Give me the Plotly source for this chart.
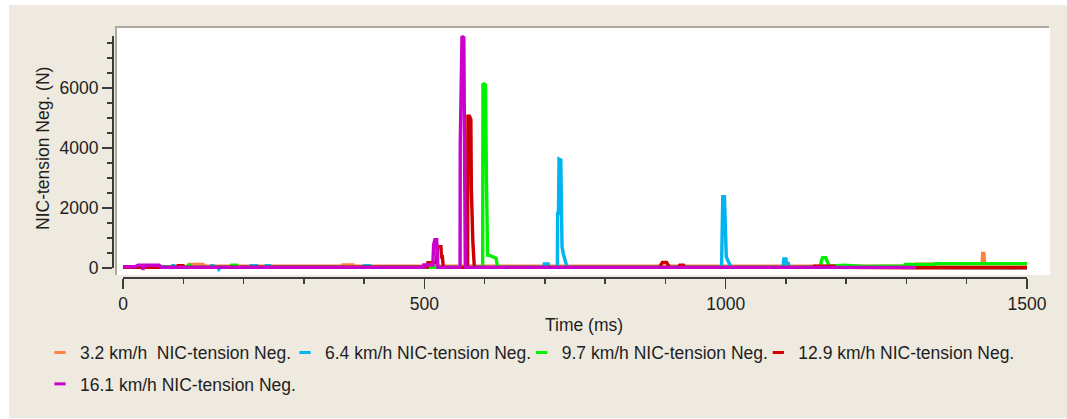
import plotly.graph_objects as go

W, H = 1067, 419

# ---------------- data ----------------
SERIES_NAMES = [
    "3.2 km/h&nbsp; NIC-tension Neg.",
    "6.4 km/h NIC-tension Neg.",
    "9.7 km/h NIC-tension Neg.",
    "12.9 km/h NIC-tension Neg.",
    "16.1 km/h NIC-tension Neg.",
]
SERIES_COLORS = ["#FF8040", "#00B4F0", "#00F000", "#CC0000", "#CC00CC"]

t_32 = [0, 40, 60, 62, 108, 110, 133, 135, 160, 362, 364, 382, 384, 510, 560, 620,
        700, 860, 890, 980, 1075, 1150, 1300, 1316, 1425.5, 1426.5, 1428.5, 1429.5,
        1451, 1452.5, 1458.5, 1460, 1500]
v_32 = [30, 40, 60, 40, 40, 120, 120, 60, 60, 60, 100, 100, 60, 60, 50, 50,
        50, 60, 60, 60, 60, 45, 60, 130, 130, 485, 485, 130, 130, 150, 150, 130, 130]

t_64 = [0, 30, 33, 45, 80, 82, 85, 87, 145, 147, 150, 152, 157, 159, 161, 210, 212,
        222, 224, 235, 237, 244, 246, 398, 400, 410, 412, 698, 699, 705.5, 706.5,
        720.8, 721.2, 722.5, 723.5, 726.5, 727.5, 728.5, 731, 737,
        993.2, 993.6, 994.5, 995.2, 998, 999.5, 1001, 1002.5, 1009,
        1095, 1096.5, 1100, 1101, 1104, 1105, 1300, 1500]
v_64 = [20, 20, 80, 80, 20, 80, 80, 20, 20, 80, 80, 20, 20, -40, 20, 20, 80,
        80, 20, 20, 80, 80, 20, 20, 80, 80, 20, 20, 133, 133, 20,
        20, 1820, 1820, 3630, 3600, 2000, 710, 430, 20,
        20, 1540, 1540, 2375, 2375, 930, 380, 300, 20,
        20, 300, 300, 150, 150, 20, 20, 10]

t_97 = [0, 33, 35, 45, 47, 106, 108, 111, 113, 178, 180, 189, 191,
        596.8, 597.3, 601.5, 603, 605, 607, 612, 617, 619, 621.5,
        1157, 1159, 1161, 1166, 1168, 1170, 1172, 1196, 1230, 1296, 1298, 1346, 1348, 1500]
v_97 = [20, 20, 80, 80, 20, 20, 90, 90, 20, 20, 90, 90, 20,
        20, 6150, 6100, 3040, 430, 430, 390, 330, 330, 20,
        20, 250, 340, 340, 250, 100, 60, 90, 50, 70, 120, 120, 145, 145]

t_129 = [0, 89, 91, 100, 102, 505, 506, 520, 521.8, 527.5, 528.5, 530, 531.5,
         571.8, 572.3, 575, 577.2, 578, 580.5, 583,
         890, 892, 895, 902, 905, 907, 922, 924, 930, 932,
         1145, 1147, 1180, 1182, 1316, 1500]
v_129 = [20, 20, 80, 80, 20, 30, 175, 175, 710, 710, 375, 375, 20,
         20, 5060, 5060, 4950, 2670, 870, 20,
         20, 100, 186, 186, 100, 20, 20, 90, 90, 20,
         20, 60, 60, 20, 10, 10]

t_161 = [0, 20, 25, 32, 33, 35, 60, 63, 498, 499, 514, 515.5, 517.5, 520.5, 522.5,
         559.3, 559.6, 562.5, 565.5, 567, 568, 1316]
v_161 = [40, 40, 90, 90, -60, 90, 90, 20, 20, 100, 100, 780, 940, 940, 20,
         20, 4170, 7720, 7680, 1330, 20, 20]

SERIES_T = [t_32, t_64, t_97, t_129, t_161]
SERIES_V = [v_32, v_64, v_97, v_129, v_161]

X_TITLE = "Time (ms)"
Y_TITLE = "NIC-tension Neg. (N)"
X_MAX = 1500
Y_AXIS_MAX = 7733

# ---------------- layout helpers (pixel -> paper) ----------------
def fx(px):
    return px / W

def fy(py):
    return 1 - py / H

X0_PX, X1500_PX = 123, 1027
Y0_PX, Y6000_PX = 268, 88
sx = (X1500_PX - X0_PX) / 1500.0
sy = (Y0_PX - Y6000_PX) / 6000.0
WHITE_L, WHITE_R, WHITE_T, WHITE_B = 117, 1050, 28, 275

def t_at(px):
    return (px - X0_PX) / sx

def v_at(py):
    return (Y0_PX - py) / sy

AX_COLOR = "#3c3c3c"
TXT_COLOR = "#1e1e1e"
FONT = "Liberation Sans, Arial, sans-serif"
FS = 17.5

fig = go.Figure()

for name, col, tt, vv in zip(SERIES_NAMES, SERIES_COLORS, SERIES_T, SERIES_V):
    assert len(tt) == len(vv), name
    fig.add_trace(go.Scatter(x=tt, y=vv, mode="lines", name=name,
                             line=dict(color=col, width=3.4),
                             showlegend=False, hoverinfo="skip"))

fig.add_trace(go.Scatter(x=[None], y=[None], xaxis="x2", yaxis="y2",
                         showlegend=False, hoverinfo="skip"))

legend_text_px = [(80, 352.5), (325, 352.5), (561.7, 352.5), (798.3, 352.5), (80, 384)]
legend_ids = ["legend", "legend2", "legend3", "legend4", "legend5"]
for i, (name, col) in enumerate(zip(SERIES_NAMES, SERIES_COLORS)):
    fig.add_trace(go.Scatter(x=[None], y=[None], xaxis="x2", yaxis="y2",
                             mode="markers", name=name, legend=legend_ids[i],
                             marker=dict(symbol="line-ew", size=8, color=col,
                                         line=dict(color=col, width=3)),
                             showlegend=True, hoverinfo="skip"))

legend_layout = {}
for i, lid in enumerate(legend_ids):
    tx, ty = legend_text_px[i]
    legend_layout[lid] = dict(
        x=fx(tx - 40), y=fy(ty), xanchor="left", yanchor="middle",
        bgcolor="rgba(0,0,0,0)", borderwidth=0, itemwidth=30,
        font=dict(family=FONT, size=FS, color=TXT_COLOR),
        orientation="h", itemclick=False, itemdoubleclick=False,
    )

tick_font = dict(family=FONT, size=FS, color=TXT_COLOR)

fig.update_layout(
    template="none",
    width=W, height=H, autosize=False,
    margin=dict(l=0, r=0, t=0, b=0, pad=0, autoexpand=False),
    paper_bgcolor="white", plot_bgcolor="rgba(0,0,0,0)",
    font=dict(family=FONT, size=FS, color=TXT_COLOR),
    xaxis=dict(domain=[fx(WHITE_L - 1), fx(WHITE_R)], range=[t_at(WHITE_L - 1), t_at(WHITE_R)],
               visible=False, fixedrange=True, automargin=False),
    yaxis=dict(domain=[fy(WHITE_B), fy(WHITE_T - 1)], range=[v_at(WHITE_B), v_at(WHITE_T - 1)],
               visible=False, fixedrange=True, automargin=False),
    xaxis2=dict(domain=[fx(X0_PX), fx(X1500_PX)], range=[0, X_MAX], anchor="free",
                position=fy(278), showline=True, linecolor=AX_COLOR, linewidth=2,
                ticks="outside", ticklen=10, tickwidth=1.5, tickcolor=AX_COLOR,
                tickmode="linear", tick0=0, dtick=500,
                minor=dict(dtick=100, ticklen=5, tickwidth=1.5, tickcolor=AX_COLOR, ticks="outside"),
                showgrid=False, zeroline=False, fixedrange=True, automargin=False,
                tickfont=tick_font),
    yaxis2=dict(domain=[fy(Y0_PX), fy(36)], range=[0, Y_AXIS_MAX], anchor="free",
                position=fx(113), showline=True, linecolor=AX_COLOR, linewidth=2,
                ticks="outside", ticklen=10, tickwidth=1.5, tickcolor=AX_COLOR,
                tickmode="linear", tick0=0, dtick=2000,
                minor=dict(dtick=500, ticklen=5, tickwidth=1.5, tickcolor=AX_COLOR, ticks="outside"),
                showgrid=False, zeroline=False, fixedrange=True, automargin=False,
                tickfont=tick_font),
    annotations=[
        dict(text=X_TITLE, xref="paper", yref="paper", x=fx(584), y=fy(324.5),
             xanchor="center", yanchor="middle", showarrow=False, font=tick_font),
        dict(text=Y_TITLE, xref="paper", yref="paper", x=fx(43), y=fy(149),
             xanchor="center", yanchor="middle", showarrow=False, textangle=-90, font=tick_font),
    ],
    shapes=[
        dict(type="rect", xref="paper", yref="paper", x0=fx(9), x1=1, y0=fy(418), y1=fy(5),
             fillcolor="#EEEADF", line=dict(width=0), layer="below"),
        dict(type="rect", xref="paper", yref="paper", x0=fx(WHITE_L), x1=fx(WHITE_R),
             y0=fy(WHITE_B), y1=fy(WHITE_T), fillcolor="white", line=dict(width=0), layer="below"),
        dict(type="line", xref="paper", yref="paper", x0=fx(115), x1=fx(WHITE_R - 1),
             y0=fy(27), y1=fy(27), line=dict(color="#ADA99C", width=2), layer="below"),
        dict(type="line", xref="paper", yref="paper", x0=fx(116), x1=fx(116),
             y0=fy(26), y1=fy(WHITE_B), line=dict(color="#ADA99C", width=2), layer="below"),
    ],
    showlegend=True,
    **legend_layout,
)

fig.write_html(
    "out.html",
    config={"displayModeBar": False, "staticPlot": True},
    post_script=("document.documentElement.style.margin='0';"
                 "document.documentElement.style.overflow='hidden';"
                 "document.body.style.margin='0';"
                 "document.body.style.padding='0';"
                 "document.body.style.overflow='hidden';"),
)
